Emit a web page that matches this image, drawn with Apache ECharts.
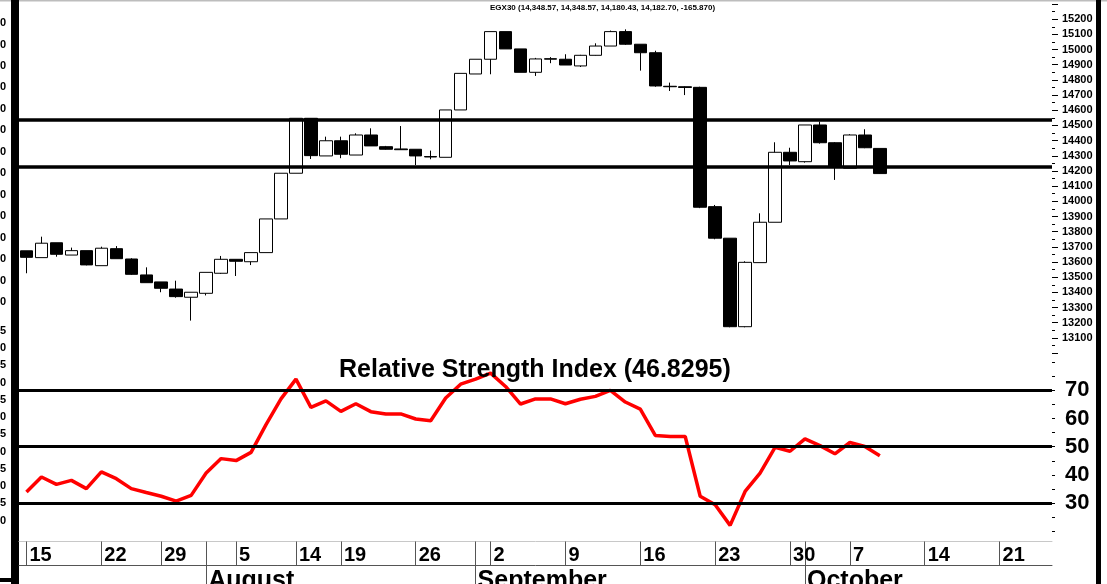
<!DOCTYPE html>
<html>
<head>
<meta charset="utf-8">
<title>EGX30</title>
<script src="https://cdn.jsdelivr.net/npm/echarts@6/dist/echarts.min.js"></script>
<style>
html, body { margin: 0; padding: 0; background: #fff; }
#chart { width: 1107px; height: 584px; }
</style>
</head>
<body>
<div id="chart"></div>
<script>
// trading days (MM-DD), the last ones are empty space on the right
var dates = [
    '07-15','07-16','07-17','07-18','07-21','07-22','07-24','07-25','07-28','07-29','07-30','07-31',
    '08-01','08-04','08-05','08-06','08-07','08-08','08-14','08-15','08-18','08-19','08-20','08-21',
    '08-22','08-25','08-26','08-27','08-28','08-29',
    '09-01','09-02','09-03','09-04','09-05','09-08','09-09','09-10','09-11','09-12','09-15','09-16',
    '09-17','09-18','09-19','09-22','09-23','09-24','09-25','09-26','09-29','09-30',
    '10-01','10-02','10-03','10-07','10-08','10-09','10-10','10-13','10-14','10-15','10-16','10-17',
    '10-20','10-21','10-22','10-23','10-24'
];
var weekLabels = ['07-15','07-22','07-29','08-05','08-14','08-19','08-26','09-02','09-09','09-16','09-23','09-30','10-07','10-14','10-21'];
var monthNames = ['', 'January', 'February', 'March', 'April', 'May', 'June', 'July', 'August', 'September', 'October', 'November', 'December'];

var opens  = [13674,13629,13727,13646,13675,13576,13688,13620,13515,13469,13422,13368,13394,13526,13618,13602,13662,13884,14185,14547,
              14299,14399,14305,14437,14360,14345,14343,14295,14290,14602,14839,14936,15118,15004,14850,14936,14936,14892,14962,15023,
              15118,15035,14979,14758,14755,14751,13965,13757,13174,13596,13862,14323,14261,14503,14386,14218,14437,14348.57];
var closes = [13631,13724,13651,13675,13581,13691,13622,13519,13464,13427,13372,13401,13532,13618,13605,13662,13884,14185,14547,14301,
              14399,14310,14437,14365,14343,14340,14299,14292,14602,14843,14936,15118,15004,14850,14938,14940,14898,14962,15023,15118,
              15035,14979,14760,14755,14750,13961,13757,13174,13598,13862,14323,14266,14503,14386,14224,14437,14353,14182.70];
var lows   = [13526,13629,13635,13646,13578,13576,13622,13515,13464,13401,13365,13214,13380,13522,13508,13580,13662,13884,14185,14279,
              14299,14284,14305,14365,14340,14338,14239,14277,14290,14602,14839,14837,15004,14850,14826,14910,14898,14885,14960,15023,
              15030,14861,14755,14727,14700,13955,13750,13170,13170,13596,13862,14239,14255,14380,14141,14218,14350,14180.43];
var highs  = [13674,13767,13727,13695,13675,13701,13705,13625,13565,13469,13477,13401,13532,13640,13618,13662,13884,14185,14547,14547,
              14426,14426,14448,14481,14365,14496,14343,14334,14602,14843,14936,15118,15118,15004,14945,14950,14969,14965,15041,15125,
              15133,15035,14992,14782,14758,14755,13976,13757,13605,13921,14389,14353,14503,14525,14390,14442,14475,14348.57];
var levels = [14540, 14228];

var rsi = [34.0,39.3,36.7,38.1,35.2,41.1,38.7,35.2,33.8,32.5,30.8,32.8,40.7,45.8,45.1,48.0,57.8,66.9,73.9,63.9,
           66.2,62.5,65.2,62.4,61.6,61.6,59.8,59.2,67.2,72.1,73.9,76.0,71.3,65.1,66.9,66.9,65.2,66.8,67.8,69.9,
           65.8,63.3,54.0,53.6,53.6,32.5,29.5,22.2,34.2,40.7,49.8,48.4,52.8,50.4,47.5,51.5,50.1,46.83];
var rsiLevels = [70, 50, 30];
var rsiLabels = [30, 40, 50, 60, 70];
var rsiTicks = [20, 25, 30, 35, 40, 45, 50, 55, 60, 65, 70, 75, 80];
// cut-off labels of the left scales
var leftPriceLabels = [20, 30, 40, 50, 60, 70, 80, 90, 100, 110, 120, 130, 140, 150];
var leftRsiLabels = [30, 35, 40, 45, 50, 55, 60, 65, 70, 75, 80, 85];

var candles = [];
for (var i = 0; i < opens.length; i++) {
    candles.push([opens[i], closes[i], lows[i], highs[i]]);
}
var labelIdx = weekLabels.map(function (d) { return dates.indexOf(d); });
var monthIdx = [];
for (var j = 1; j < dates.length; j++) {
    if (dates[j].slice(0, 2) !== dates[j - 1].slice(0, 2)) monthIdx.push(j);
}

var font = 'Liberation Sans, Arial, sans-serif';
var myChart = echarts.init(document.getElementById('chart'));

var option = {
    animation: false,
    backgroundColor: '#fff',
    title: [
        {
            text: 'EGX30 (14,348.57, 14,348.57, 14,180.43, 14,182.70, -165.870)',
            left: 490, top: 4, padding: 0,
            textStyle: { fontSize: 8, fontWeight: 'bold', color: '#000', fontFamily: font }
        },
        {
            text: 'Relative Strength Index (46.8295)',
            left: 339, top: 358, padding: 0,
            textStyle: { fontSize: 25, fontWeight: 'bold', color: '#000', fontFamily: font }
        }
    ],
    grid: [
        { left: 19, width: 1033, top: 4, height: 349.1, containLabel: false, outerBoundsMode: 'none' },
        { left: 19, width: 1033, top: 325, height: 216.5, containLabel: false, outerBoundsMode: 'none' }
    ],
    xAxis: [
        { type: 'category', gridIndex: 0, data: dates, show: false },
        {
            type: 'category', gridIndex: 1, data: dates, position: 'bottom',
            axisLine: { show: true, lineStyle: { color: '#c8c8c8', width: 1 } },
            axisTick: {
                show: true, alignWithLabel: true, length: 24,
                interval: function (i) { return labelIdx.indexOf(i) >= 0 || monthIdx.indexOf(i) >= 0; },
                lineStyle: { color: '#555', width: 1 }
            },
            axisLabel: {
                interval: function (i) { return labelIdx.indexOf(i) >= 0; },
                formatter: function (v) { return String(parseInt(v.slice(3), 10)); },
                align: 'left', padding: [0, 0, 0, 3], margin: 4,
                fontSize: 20, fontWeight: 'bold', color: '#000', fontFamily: font
            },
            splitLine: { show: false }
        },
        {
            type: 'category', gridIndex: 1, data: dates, position: 'bottom', offset: 24,
            axisLine: { show: true, lineStyle: { color: '#555', width: 1 } },
            axisTick: {
                show: true, alignWithLabel: true, length: 20,
                interval: function (i) { return monthIdx.indexOf(i) >= 0; },
                lineStyle: { color: '#555', width: 1 }
            },
            axisLabel: {
                interval: function (i) { return monthIdx.indexOf(i) >= 0; },
                formatter: function (v) { return monthNames[parseInt(v.slice(0, 2), 10)]; },
                align: 'left', padding: [0, 0, 0, 2], margin: 3,
                fontSize: 25, fontWeight: 'bold', color: '#000', fontFamily: font
            },
            splitLine: { show: false }
        }
    ],
    yAxis: [
        {
            type: 'value', gridIndex: 0, position: 'right',
            min: 13000, max: 15300, interval: 100,
            axisLine: { show: false },
            axisTick: { show: true, length: 6, lineStyle: { color: '#000' } },
            minorTick: { show: true, splitNumber: 2, length: 3, lineStyle: { color: '#000' } },
            splitLine: { show: false },
            axisLabel: {
                margin: 10, fontSize: 11, fontWeight: 'bold', color: '#000', fontFamily: font,
                formatter: function (v) { return (v <= 13000 || v >= 15300) ? '' : String(v); }
            }
        },
        {
            type: 'value', gridIndex: 0, position: 'left',
            min: -3.81, max: 158.86,
            axisLine: { show: false }, axisTick: { show: false }, splitLine: { show: false },
            axisLabel: {
                customValues: leftPriceLabels, margin: 13,
                fontSize: 11, fontWeight: 'bold', color: '#000', fontFamily: font
            }
        },
        {
            type: 'value', gridIndex: 1, position: 'right',
            min: 16.5, max: 93.03,
            axisLine: { show: false },
            axisTick: { show: true, customValues: rsiTicks, length: 3, lineStyle: { color: '#000' } },
            splitLine: { show: false },
            axisLabel: {
                customValues: rsiLabels, margin: 13,
                fontSize: 22, fontWeight: 'bold', color: '#000', fontFamily: font
            }
        },
        {
            type: 'value', gridIndex: 1, position: 'left',
            min: 23.92, max: 86.73,
            axisLine: { show: false }, axisTick: { show: false }, splitLine: { show: false },
            axisLabel: {
                customValues: leftRsiLabels, margin: 13,
                fontSize: 11, fontWeight: 'bold', color: '#000', fontFamily: font
            }
        }
    ],
    series: [
        {
            name: 'EGX30',
            type: 'candlestick',
            xAxisIndex: 0, yAxisIndex: 0,
            data: candles,
            barWidth: 13,
            itemStyle: {
                color: '#fff', color0: '#000',
                borderColor: '#000', borderColor0: '#000', borderWidth: 1
            },
            markLine: {
                silent: true, symbol: 'none', label: { show: false },
                lineStyle: { color: '#000', width: 3.5, type: 'solid' },
                data: levels.map(function (v) { return { yAxis: v }; })
            }
        },
        {
            name: 'RSI',
            type: 'line',
            xAxisIndex: 1, yAxisIndex: 2,
            data: rsi,
            showSymbol: false,
            lineStyle: { color: '#ff0000', width: 3.5 },
            markLine: {
                silent: true, symbol: 'none', label: { show: false },
                lineStyle: { color: '#000', width: 3, type: 'solid' },
                data: rsiLevels.map(function (v) { return { yAxis: v }; })
            }
        }
    ],
    graphic: [
        { type: 'rect', shape: { x: 0, y: 0, width: 1107, height: 1.5 }, style: { fill: '#bdbdbd' } },
        { type: 'rect', shape: { x: 11, y: 0, width: 8, height: 584 }, style: { fill: '#000' } },
        { type: 'rect', shape: { x: 0, y: 578, width: 19, height: 4 }, style: { fill: '#000' } },
        { type: 'rect', shape: { x: 1096, y: 0, width: 5, height: 584 }, style: { fill: '#000' } }
    ]
};

myChart.setOption(option);
window.addEventListener('resize', function () {
    myChart.resize();
});
</script>
</body>
</html>
